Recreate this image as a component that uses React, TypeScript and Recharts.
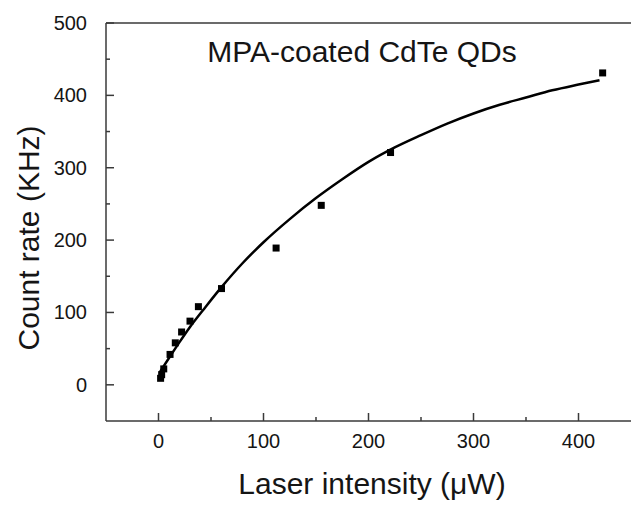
import { ComposedChart, Line, Scatter, XAxis, YAxis, ReferenceLine } from 'recharts'

// measured points (laser intensity in µW, count rate in KHz)
const intensity = [2, 3, 5, 11, 16, 22, 30, 38, 60, 112, 155, 221, 423]
const countRate = [9, 14, 22, 42, 58, 73, 88, 108, 133, 189, 248, 321, 431]

// fitted saturation curve
const fitIntensity = [1, 10, 20, 30, 45, 60, 80, 100, 125, 150, 175, 200, 225, 250, 275, 300, 325, 350, 375, 400, 420]
const fitRate = [17, 37, 59, 80, 108, 135, 168, 197, 229, 258, 284, 308, 328, 345, 361, 375, 387, 397, 407, 415, 421]

// every 50 gets a tick mark, only multiples of 100 get a label
const xTicks = [0, 50, 100, 150, 200, 250, 300, 350, 400]
const yTicks = [-50, 0, 50, 100, 150, 200, 250, 300, 350, 400, 450, 500]

const FONT = '"Liberation Sans", Arial, sans-serif'
const AXIS = '#3a3a3a'
const TEXT = '#151515'

const points = intensity.map((x, i) => ({ x, rate: countRate[i] }))
const fit = fitIntensity.map((x, i) => ({ x, fit: fitRate[i] }))

const isMajor = (v: number) => v % 100 === 0

const Square = (props: any) => {
  const { cx, cy } = props
  if (cx == null || cy == null) return null
  return <rect x={cx - 3.5} y={cy - 3.5} width={7} height={7} fill="#000" />
}

// inward tick marks drawn from the axis line, label outside
const XTick = (props: any) => {
  const { x, y, payload } = props
  const v = payload.value
  const len = isMajor(v) ? 8 : 4
  return (
    <g>
      <line x1={x} y1={y} x2={x} y2={y - len} stroke={AXIS} strokeWidth={1.5} />
      {isMajor(v) && (
        <text x={x} y={y + 27} textAnchor="middle" fontSize={20} fontFamily={FONT} fill={TEXT}>
          {v}
        </text>
      )}
    </g>
  )
}

const YTick = (props: any) => {
  const { x, y, payload } = props
  const v = payload.value
  if (v === -50) return null
  const len = isMajor(v) ? 8 : 4
  return (
    <g>
      <line x1={x} y1={y} x2={x + len} y2={y} stroke={AXIS} strokeWidth={1.5} />
      {isMajor(v) && (
        <text x={x - 19} y={y + 7} textAnchor="end" fontSize={20} fontFamily={FONT} fill={TEXT}>
          {v}
        </text>
      )}
    </g>
  )
}

export default function App() {
  return (
    <div style={{ position: 'fixed', left: 0, top: 0, width: 633, height: 505, background: '#fff' }}>
      <ComposedChart width={633} height={505} margin={{ top: 23, right: 2, bottom: 0, left: 0 }}>
        <XAxis
          xAxisId="x"
          type="number"
          dataKey="x"
          domain={[-50, 450]}
          ticks={xTicks}
          interval={0}
          height={84}
          tickSize={0}
          tickMargin={0}
          tickLine={false}
          tick={<XTick />}
          stroke={AXIS}
          strokeWidth={1.5}
          allowDataOverflow
        />
        <YAxis
          yAxisId="y"
          type="number"
          domain={[-50, 500]}
          ticks={yTicks}
          interval={0}
          width={106}
          tickSize={0}
          tickMargin={0}
          tickLine={false}
          tick={<YTick />}
          stroke={AXIS}
          strokeWidth={1.5}
          allowDataOverflow
        />
        <ReferenceLine xAxisId="x" yAxisId="y" y={500} stroke={AXIS} strokeWidth={1.5} />
        <Line
          xAxisId="x"
          yAxisId="y"
          data={fit}
          dataKey="fit"
          type="monotone"
          stroke="#000"
          strokeWidth={2.5}
          dot={false}
          isAnimationActive={false}
        />
        <Scatter
          xAxisId="x"
          yAxisId="y"
          data={points}
          dataKey="rate"
          shape={<Square />}
          isAnimationActive={false}
        />
        <text x={362} y={62} textAnchor="middle" fontSize={30} fontFamily={FONT} fill={TEXT}>
          MPA-coated CdTe QDs
        </text>
        <text
          transform="translate(39,238) rotate(-90)"
          textAnchor="middle"
          fontSize={30}
          fontFamily={FONT}
          fill={TEXT}
        >
          Count rate (KHz)
        </text>
        <text x={372} y={494} textAnchor="middle" fontSize={30} fontFamily={FONT} fill={TEXT}>
          Laser intensity (μW)
        </text>
      </ComposedChart>
    </div>
  )
}
